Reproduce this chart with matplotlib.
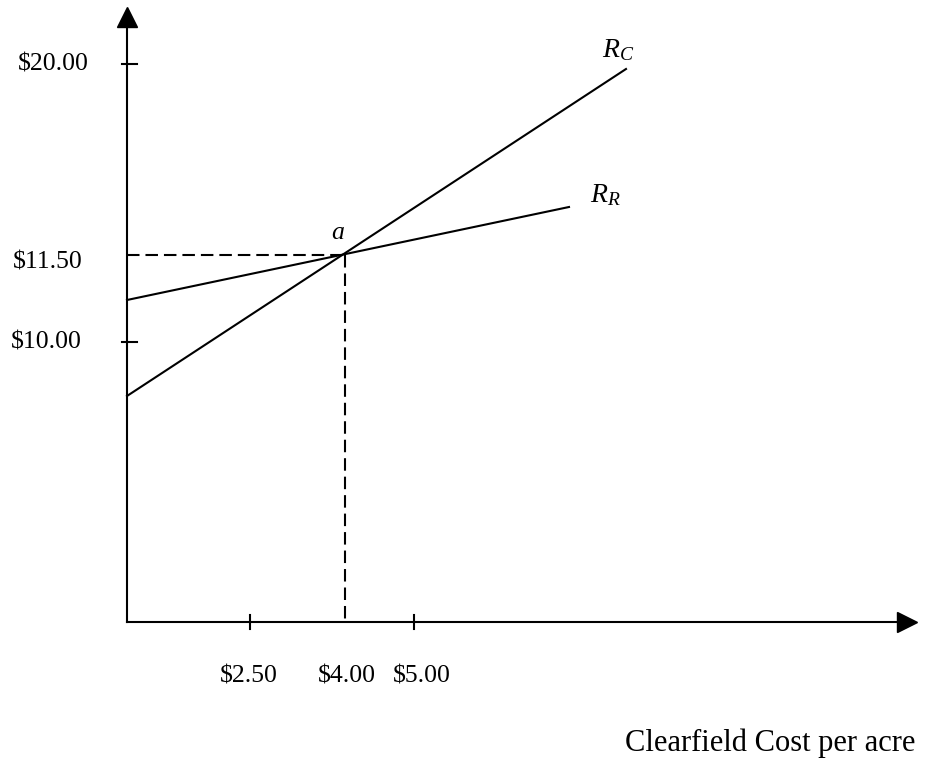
import matplotlib
matplotlib.use("Agg")
import matplotlib.pyplot as plt

plt.rcParams['font.family'] = ['Liberation Serif', 'DejaVu Serif']
plt.rcParams['mathtext.fontset'] = 'custom'
plt.rcParams['mathtext.rm'] = 'Liberation Serif'
plt.rcParams['mathtext.it'] = 'Liberation Serif:italic'
plt.rcParams['lines.scale_dashes'] = False

# schematic chart units (not to scale), origin at the axes corner
x_tick_labels = [r'\$2.50', r'\$4.00', r'\$5.00']
x_tick_pos = [123, 218, 287]
y_tick_labels = [r'\$20.00', r'\$11.50', r'\$10.00']
y_tick_pos = [557.5, 366.5, 279.5]

rc_x = [0, 499]
rc_y = [225.5, 552.5]
rr_x = [0, 442]
rr_y = [321.5, 414.5]

a_x = 217
a_y = 367

x_end = 789
y_end = 614

lw = 1.5
fig = plt.figure(figsize=(9.26, 7.65), dpi=100)
ax = fig.add_axes([0, 0, 1, 1])
ax.set_xlim(-127, 926 - 127)
ax.set_ylim(-(765 - 621.5), 621.5)
ax.axis('off')

# axes with arrow heads
ax.plot([0, 0], [0, y_end - 12], color='black', lw=lw)
ax.plot([0, x_end - 12], [0, 0], color='black', lw=lw)
ax.plot([0], [y_end - 9], marker='^', ms=14, color='black')
ax.plot([x_end - 9], [0], marker='>', ms=14, color='black')

# tick marks
for pos in [y_tick_pos[0], y_tick_pos[2]]:
    ax.plot([-5, 10], [pos, pos], color='black', lw=lw)
for pos in [x_tick_pos[0], x_tick_pos[2]]:
    ax.plot([pos, pos], [-7, 7], color='black', lw=lw)

# curves
ax.plot(rc_x, rc_y, color='black', lw=lw)
ax.plot(rr_x, rr_y, color='black', lw=lw)

# dashed guides to point a
ax.plot([0, a_x], [a_y, a_y], color='black', lw=lw, dashes=(9, 4.3))
ax.plot([x_tick_pos[1], x_tick_pos[1]], [a_y, 0], color='black', lw=lw, dashes=(9, 4.3))

# labels
fs = 18.5
y_label_right = [-38, -44, -45]
y_label_base = [551.5, 353.5, 273.5]
for lab, xr, yb in zip(y_tick_labels, y_label_right, y_label_base):
    ax.text(xr, yb, lab, ha='right', va='baseline', fontsize=fs)

x_label_center = [121.5, 220, 295]
for lab, xc in zip(x_tick_labels, x_label_center):
    ax.text(xc, -60.5, lab, ha='center', va='baseline', fontsize=fs)

ax.text(498, -129.5, 'Clearfield Cost per acre', ha='left', va='baseline', fontsize=22)

ax.text(475, 564.5, r'$R_C$', ha='left', va='baseline', fontsize=20)
ax.text(463, 419.5, r'$R_R$', ha='left', va='baseline', fontsize=20)
ax.text(204, 382.5, 'a', ha='left', va='baseline', fontsize=fs, style='italic')

fig.savefig('out.png', dpi=100)
